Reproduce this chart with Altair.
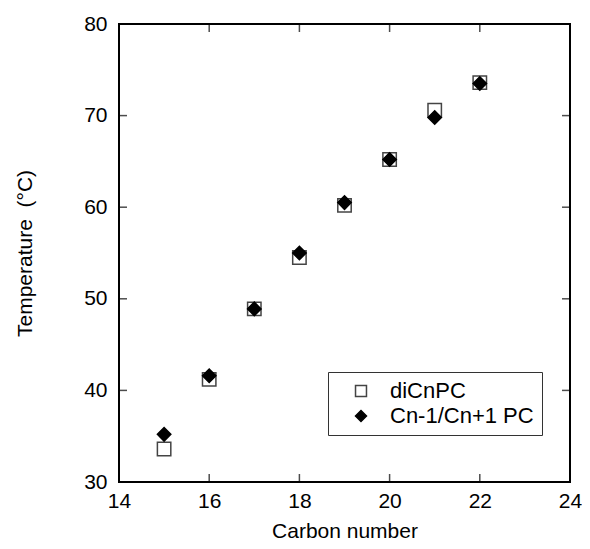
import altair as alt
import pandas as pd

# Data
carbon = [15, 16, 17, 18, 19, 20, 21, 22]
dicnpc = [33.6, 41.2, 48.9, 54.5, 60.2, 65.2, 70.6, 73.6]
mixed = [35.2, 41.6, 48.9, 55.0, 60.5, 65.2, 69.8, 73.5]
series_names = ["diCnPC", "Cn-1/Cn+1 PC"]
x_ticks = [14, 16, 18, 20, 22, 24]
y_ticks = [30, 40, 50, 60, 70, 80]

rows = []
for c, v in zip(carbon, dicnpc):
    rows.append({"carbon": c, "temp": v, "series": series_names[0]})
for c, v in zip(carbon, mixed):
    rows.append({"carbon": c, "temp": v, "series": series_names[1]})
df = pd.DataFrame(rows)

FONT = "Liberation Sans"
W, H = 451, 458

xscale = alt.Scale(domain=[14, 24], nice=False, zero=False)
yscale = alt.Scale(domain=[30, 80], nice=False, zero=False)
xaxis = alt.Axis(values=x_ticks, title="Carbon number", domain=False, ticks=False,
                 grid=False, labelPadding=8, titlePadding=9, labelFlush=False)
yaxis = alt.Axis(values=y_ticks, title="Temperature\u00a0\u00a0(°C)", domain=False, ticks=False,
                 grid=False, labelPadding=12, titlePadding=48)
legend = alt.Legend(title=None, orient="none", legendX=209, legendY=348,
                    strokeColor="#333", padding=8, labelFontSize=22,
                    labelFont=FONT, labelColor="black", symbolSize=120,
                    rowPadding=3, labelOffset=18, symbolOffset=14, symbolStrokeWidth=1.5,
                    cornerRadius=0)

points = alt.Chart(df).mark_point(filled=True, opacity=1, strokeWidth=1.5, size=180).encode(
    x=alt.X("carbon:Q", scale=xscale, axis=xaxis),
    y=alt.Y("temp:Q", scale=yscale, axis=yaxis),
    shape=alt.Shape("series:N", scale=alt.Scale(domain=series_names, range=["square", "diamond"]),
                    legend=legend),
    fill=alt.Fill("series:N", scale=alt.Scale(domain=series_names, range=["white", "black"]), legend=legend),
    stroke=alt.Stroke("series:N", scale=alt.Scale(domain=series_names, range=["#444444", "black"]), legend=legend),
)

tick_df_x = pd.DataFrame({"t": x_ticks})
tick_df_y = pd.DataFrame({"t": y_ticks})

bottom_ticks = alt.Chart(tick_df_x).mark_tick(orient="vertical", size=8, thickness=1.5, color="black", yOffset=-4).encode(
    x=alt.X("t:Q", scale=xscale, axis=xaxis), y=alt.datum(30, axis=yaxis))
top_ticks = alt.Chart(tick_df_x).mark_tick(orient="vertical", size=8, thickness=1.5, color="black", yOffset=4).encode(
    x=alt.X("t:Q", scale=xscale, axis=xaxis), y=alt.datum(80, axis=yaxis))
left_ticks = alt.Chart(tick_df_y).mark_tick(orient="horizontal", size=8, thickness=1.5, color="black", xOffset=4).encode(
    y=alt.Y("t:Q", scale=yscale, axis=yaxis), x=alt.datum(14, axis=xaxis))
right_ticks = alt.Chart(tick_df_y).mark_tick(orient="horizontal", size=8, thickness=1.5, color="black", xOffset=-4).encode(
    y=alt.Y("t:Q", scale=yscale, axis=yaxis), x=alt.datum(24, axis=xaxis))

chart = alt.layer(points, bottom_ticks, top_ticks, left_ticks, right_ticks).properties(
    width=W, height=H, background="white",
    autosize=alt.AutoSizeParams(type="none"),
    padding={"left": 111, "top": 16, "right": 12, "bottom": 59}
).configure_view(
    stroke="black", strokeWidth=2
).configure_axis(
    labelFont=FONT, titleFont=FONT, labelFontSize=21, titleFontSize=21,
    labelColor="black", titleColor="black", titleFontWeight="normal"
)

chart.save("out.html", embed_options={"renderer": "svg", "actions": False})
